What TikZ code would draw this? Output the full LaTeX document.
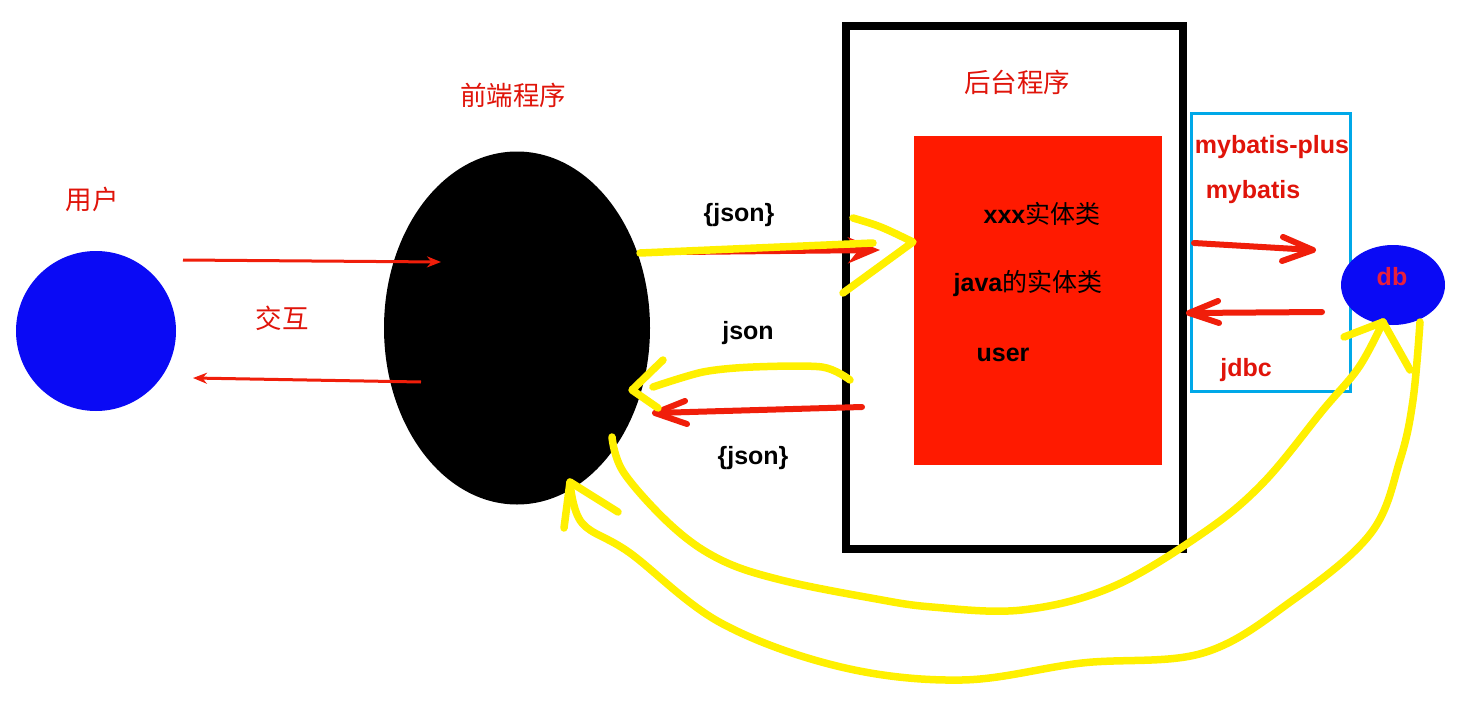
\documentclass[tikz,border=0pt]{standalone}
\usepackage{fontspec}
\setmainfont{Liberation Sans}
\newfontfamily\cjk{Noto Sans CJK SC}
\usetikzlibrary{shapes.geometric,arrows.meta}
\definecolor{ublue}{HTML}{0A0AF5}
\definecolor{bred}{HTML}{FF1A00}
\definecolor{tred}{HTML}{E0140A}
\definecolor{ared}{HTML}{F01E0A}
\definecolor{dbred}{HTML}{E8203C}
\definecolor{yel}{HTML}{FFF000}
\definecolor{cyanb}{HTML}{00A8E8}
\begin{document}
\begin{tikzpicture}[x=1pt,y=-1pt,
  title/.style={text=tred, font=\cjk\fontsize{26.5}{29}\selectfont},
  lbl/.style={font=\bfseries\fontsize{25}{28}\selectfont},
  redlbl/.style={lbl, text=tred},
  thinarrow/.style={draw=ared, line width=3pt, -{Stealth[length=14pt,width=11pt]}},
  thickred/.style={draw=ared, line width=6pt, line cap=round, line join=round},
  yline/.style={draw=yel, line width=7.5pt, line cap=round, line join=round},
]
\useasboundingbox (0,0) rectangle (1484,720);
\fill[white] (0,0) rectangle (1484,720);

% user side
\node[circle, fill=ublue, minimum size=160pt, inner sep=0] (user) at (96,331) {};
\node[title] (userlbl) at (92,199) {用户};
\node[title] (inter) at (282,318) {交互};

% frontend
\node[ellipse, fill=black, minimum width=266pt, minimum height=353pt, inner sep=0] (front) at (517,328) {};
\node[title] (frontlbl) at (513,95) {前端程序};

% backend
\node[draw=black, line width=8pt, minimum width=337pt, minimum height=523pt, inner sep=0] (back) at (1014.5,287.5) {};
\node[title] (backlbl) at (1017,82) {后台程序};
\node[fill=bred, minimum width=248pt, minimum height=329pt, inner sep=0] (entity) at (1038,300.5) {};
\node[lbl] (e1) at (1042,214) {xxx{\cjk\mdseries 实体类}};
\node[lbl] (e2) at (1028,284) {java{\cjk\mdseries 的实体类}};
\node[lbl] (e3) at (1003,355) {user};

% mapper box
\node[draw=cyanb, line width=3pt, minimum width=159pt, minimum height=278pt, inner sep=0] (mapper) at (1270.5,252) {};
\node[redlbl] (m1) at (1272,147) {mybatis-plus};
\node[redlbl] (m2) at (1253,192) {mybatis};
\node[redlbl] (m3) at (1246,370) {jdbc};

% db
\node[ellipse, fill=ublue, minimum width=104pt, minimum height=80pt, inner sep=0] (db) at (1393,285) {};
\node[lbl, text=dbred] (dblbl) at (1392,277) {db};

% json labels
\node[lbl] (j1) at (739,215) {\{json\}};
\node[lbl] (j2) at (748,333) {json};
\node[lbl] (j3) at (753,458) {\{json\}};

% user <-> front arrows
\coordinate (u1s) at (183,260); \coordinate (u1e) at (441,262);
\coordinate (u2s) at (421,382); \coordinate (u2e) at (193,378);
\draw[thinarrow] (u1s) -- (u1e);
\draw[thinarrow] (u2s) -- (u2e);

% front -> back red arrow
\coordinate (f1s) at (680,252); \coordinate (f1e) at (880,250);
\draw[draw=ared, line width=6pt, -{Stealth[length=32pt,width=26pt]}] (f1s) -- (f1e);

% back -> front red arrow
\coordinate (b1s) at (862,407); \coordinate (b1e) at (655,413);
\draw[thickred] (b1s) -- (b1e);
\draw[thickred] (685,401) -- (b1e) -- (687,424);

% mapper arrows
\coordinate (m1s) at (1194,243); \coordinate (m1e) at (1313,250);
\draw[thickred] (m1s) -- (m1e);
\draw[thickred] (1283,237) -- (m1e) -- (1282,261);
\coordinate (m2s) at (1322,312); \coordinate (m2e) at (1189,313);
\draw[thickred] (m2s) -- (m2e);
\draw[thickred] (1218,301) -- (m2e) -- (1219,323);

% yellow strokes
\coordinate (y1s) at (640,253); \coordinate (y1e) at (873,243);
\draw[yline] (y1s) -- (y1e);
\draw[yline] (853,218) .. controls (880,226) .. (913,242) -- (843,293);

\coordinate (y2s) at (850,380); \coordinate (y2e) at (653,387);
\draw[yline] plot[smooth] coordinates {(y2s) (822,367) (753,367) (703,372) (y2e)};
\draw[yline] (663,360) -- (632,390) -- (658,408);

\coordinate (y3s) at (612,437); \coordinate (y3e) at (1383,322);
\draw[yline] plot[smooth, tension=0.6] coordinates {(y3s) (624,473) (673,527) (721,560) (781,580) (871,598) (932,607) (1022,610) (1112,587) (1203,533) (1263,483) (1323,410) (1359,367) (y3e)};
\draw[yline] (1344,337) -- (y3e) -- (1410,370);

\coordinate (y4s) at (1420,322); \coordinate (y4e) at (570,482);
\draw[yline] plot[smooth, tension=0.6] coordinates {(y4s) (1413,400) (1400,460) (1371,533) (1293,600) (1203,653) (1082,663) (962,680) (841,667) (721,623) (630,553) (582,523) (y4e)};
\draw[yline] (564,528) -- (y4e) -- (618,512);
\end{tikzpicture}
\end{document}
